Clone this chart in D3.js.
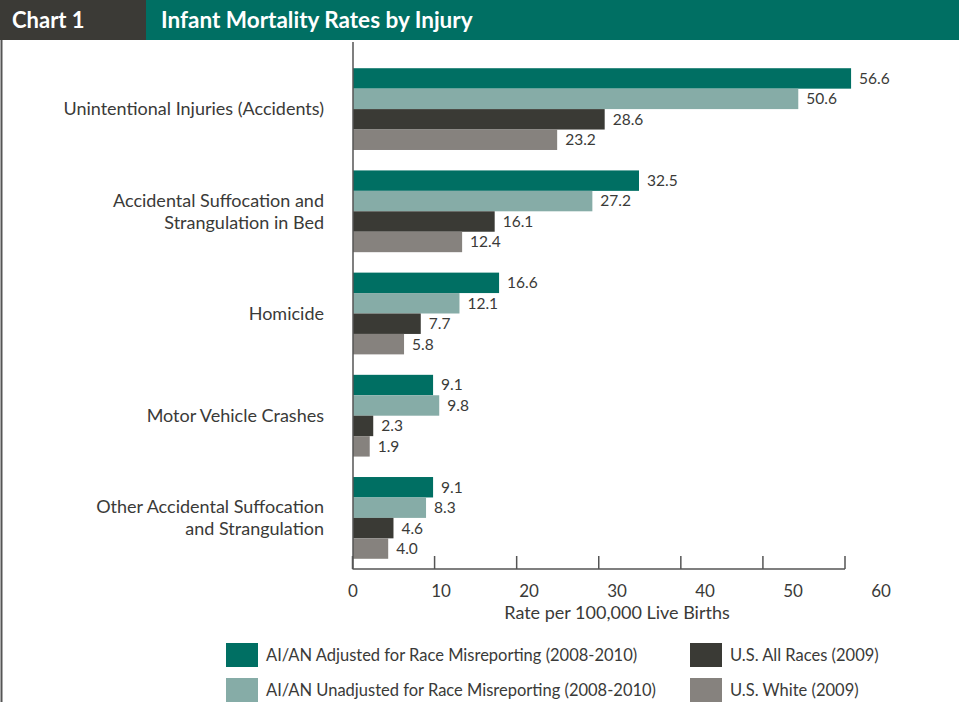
<!DOCTYPE html>
<html>
<head>
<meta charset="utf-8">
<script src="https://cdn.jsdelivr.net/npm/d3@7"></script>
<style>
  body { margin: 0; background: #fff; }
  svg text { font-family: Lato, "Noto Sans", sans-serif; fill: #3a3a38; }
</style>
</head>
<body>
<div id="chart"></div>
<script>
// chart data
var categories = [
  ["Unintentional Injuries (Accidents)"],
  ["Accidental Suffocation and", "Strangulation in Bed"],
  ["Homicide"],
  ["Motor Vehicle Crashes"],
  ["Other Accidental Suffocation", "and Strangulation"]
];
var seriesNames = [
  "AI/AN Adjusted for Race Misreporting (2008-2010)",
  "AI/AN Unadjusted for Race Misreporting (2008-2010)",
  "U.S. All Races (2009)",
  "U.S. White (2009)"
];
var adjusted   = [56.6, 32.5, 16.6, 9.1, 9.1];
var unadjusted = [50.6, 27.2, 12.1, 9.8, 8.3];
var allRaces   = [28.6, 16.1, 7.7, 2.3, 4.6];
var white      = [23.2, 12.4, 5.8, 1.9, 4.0];
var tickValues = [0, 10, 20, 30, 40, 50, 60];
var colors = ["#006f63", "#86aca7", "#3a3a35", "#86827e"];

var width = 959, height = 702;
var series = [adjusted, unadjusted, allRaces, white];

var svg = d3.select("#chart").append("svg")
  .attr("width", width).attr("height", height);

// header band
svg.append("rect").attr("x", 0).attr("y", 0).attr("width", 146).attr("height", 40).attr("fill", "#3b3a36");
svg.append("rect").attr("x", 146).attr("y", 0).attr("width", width - 146).attr("height", 40).attr("fill", "#006f63");
svg.append("text").attr("x", 12).attr("y", 28).text("Chart 1")
  .style("fill", "#fff").style("font-size", "22px").style("font-weight", "bold");
svg.append("text").attr("x", 161).attr("y", 28).text("Infant Mortality Rates by Injury")
  .style("fill", "#fff").style("font-size", "22.5px").style("font-weight", "bold");

// left frame line
svg.append("line").attr("x1", 1.5).attr("x2", 1.5).attr("y1", 40).attr("y2", height)
  .attr("stroke", "#555").attr("stroke-width", 2);

// scales
var x = d3.scaleLinear().domain([0, 60]).range([353, 881]);
var xTick = d3.scaleLinear().domain([0, 60]).range([352.5, 845]); // tick marks as drawn in source
var y = d3.scaleBand().domain(d3.range(categories.length)).range([58, 569])
  .paddingInner(0.2).paddingOuter(0.1);
var yInner = d3.scaleBand().domain(d3.range(series.length)).range([0, y.bandwidth()]);

var axisY = 569;

// bars
var groups = svg.selectAll("g.cat").data(categories).enter().append("g")
  .attr("class", "cat")
  .attr("transform", function(d, i) { return "translate(0," + y(i) + ")"; });

groups.each(function(d, ci) {
  var g = d3.select(this);
  series.forEach(function(s, si) {
    g.append("rect")
      .attr("x", x(0))
      .attr("y", yInner(si))
      .attr("width", x(s[ci]) - x(0))
      .attr("height", yInner.bandwidth())
      .attr("fill", colors[si]);
    g.append("text")
      .attr("x", x(s[ci]) + 8)
      .attr("y", yInner(si) + yInner.bandwidth() / 2)
      .attr("dy", "0.35em")
      .style("font-size", "15.5px")
      .text(s[ci].toFixed(1));
  });
  // category label
  var lines = d;
  var cy = y.bandwidth() / 2;
  lines.forEach(function(line, li) {
    g.append("text")
      .attr("x", 324)
      .attr("y", cy + (li - (lines.length - 1) / 2) * 22)
      .attr("dy", "0.35em")
      .attr("text-anchor", "end")
      .style("font-size", "18px")
      .text(line);
  });
});

// axes lines
svg.append("line").attr("x1", 353).attr("x2", 353).attr("y1", 42).attr("y2", axisY)
  .attr("stroke", "#555").attr("stroke-width", 1.5);
svg.append("line").attr("x1", 352.5).attr("x2", 845).attr("y1", axisY).attr("y2", axisY)
  .attr("stroke", "#555").attr("stroke-width", 1.5);
svg.selectAll("line.tick").data(tickValues).enter().append("line")
  .attr("class", "tick")
  .attr("x1", function(d) { return xTick(d); })
  .attr("x2", function(d) { return xTick(d); })
  .attr("y1", axisY - 13).attr("y2", axisY)
  .attr("stroke", "#555").attr("stroke-width", 1.5);
svg.selectAll("text.tl").data(tickValues).enter().append("text")
  .attr("class", "tl")
  .attr("x", function(d) { return x(d); })
  .attr("y", 597)
  .attr("text-anchor", "middle")
  .style("font-size", "17px")
  .text(function(d) { return d; });
svg.append("text").attr("x", (x(0) + x(60)) / 2).attr("y", 619)
  .attr("text-anchor", "middle").style("font-size", "18px")
  .text("Rate per 100,000 Live Births");

// legend
var legendPos = [[226, 643], [226, 678], [690, 643], [690, 678]];
seriesNames.forEach(function(name, i) {
  var p = legendPos[i];
  svg.append("rect").attr("x", p[0]).attr("y", p[1]).attr("width", 32).attr("height", 24)
    .attr("fill", colors[i]);
  svg.append("text").attr("x", p[0] + 40).attr("y", p[1] + 12).attr("dy", "0.35em")
    .style("font-size", "16.5px").text(name);
});
</script>
</body>
</html>
